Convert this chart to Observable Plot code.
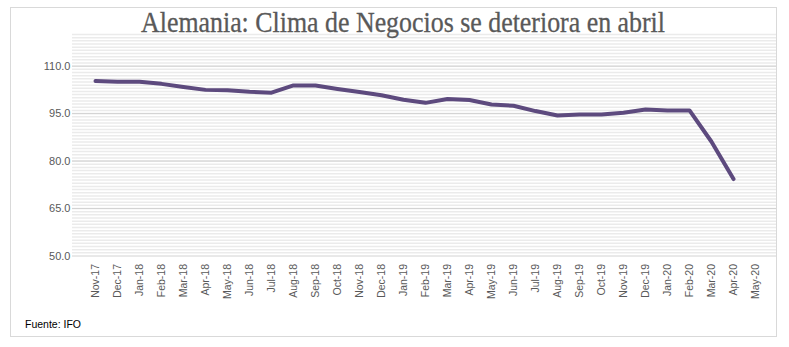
<!DOCTYPE html>
<html>
<head>
<meta charset="utf-8">
<script src="https://cdn.jsdelivr.net/npm/d3@7"></script>
<script src="https://cdn.jsdelivr.net/npm/@observablehq/plot@0.6"></script>
<style>
  html, body { margin: 0; padding: 0; background: #fff; }
  #wrap { position: relative; width: 789px; height: 347px; overflow: hidden; }
  #frame { position: absolute; left: 10px; top: 7px; width: 767px; height: 330px; border: 1px solid #d9d9d9; box-sizing: border-box; pointer-events: none; }
  #title { position: absolute; left: 0; top: 0; }
  #caption { position: absolute; left: 25px; top: 318px; font-family: "Liberation Sans", Arial, sans-serif; font-size: 10.5px; color: #000; }
  #chart { position: absolute; left: 0; top: 0; }
</style>
</head>
<body>
<div id="wrap">
  <div id="chart"></div>
  <svg id="title" width="789" height="40">
    <text x="403" y="32" text-anchor="middle" textLength="524" lengthAdjust="spacingAndGlyphs"
      font-family="Liberation Serif, serif" font-size="30" fill="#595959" stroke="#595959" stroke-width="0.3">Alemania: Clima de Negocios se deteriora en abril</text>
  </svg>
  <div id="frame"></div>
  <div id="caption">Fuente: IFO</div>
</div>
<script>
const months = ["Nov-17","Dec-17","Jan-18","Feb-18","Mar-18","Apr-18","May-18","Jun-18","Jul-18","Aug-18","Sep-18","Oct-18","Nov-18","Dec-18","Jan-19","Feb-19","Mar-19","Apr-19","May-19","Jun-19","Jul-19","Aug-19","Sep-19","Oct-19","Nov-19","Dec-19","Jan-20","Feb-20","Mar-20","Apr-20","May-20"];
const values = [105.3,105.1,105.1,104.4,103.4,102.5,102.4,101.9,101.6,103.9,103.9,102.8,101.8,100.8,99.4,98.4,99.6,99.3,97.9,97.5,95.8,94.4,94.7,94.7,95.3,96.3,96.0,96.0,86.1,74.3,null];
const yTicks = [50, 65, 80, 95, 110];
const yDomain = [50, 120];

const data = months.map((m, i) => ({month: m, value: values[i]}));
const stripes = d3.range(yDomain[0] + 1, yDomain[1] + 0.5, 1);

const chart = Plot.plot({
  width: 789,
  height: 347,
  marginTop: 34,
  marginBottom: 91.5,
  marginLeft: 72,
  marginRight: 12,
  style: {background: "transparent", fontFamily: "Liberation Sans, Arial, sans-serif"},
  x: {type: "point", domain: months, padding: 0.5},
  y: {domain: yDomain},
  marks: [
    Plot.ruleY(stripes, {stroke: "#ebebeb", strokeWidth: 1.5}),
    Plot.ruleY(yTicks, {stroke: "#d2d2d2", strokeWidth: 1}),
    Plot.axisY({ticks: yTicks, tickFormat: d => d.toFixed(1), tickSize: 0, tickPadding: 2, fontSize: 11, color: "#595959", label: null}),
    Plot.axisX({tickSize: 0, tickPadding: 8, tickRotate: -90, fontSize: 10.5, color: "#595959", label: null}),
    Plot.line(data.filter(d => d.value != null), {x: "month", y: "value", stroke: "#5d4a7e", strokeWidth: 4, strokeLinejoin: "round", strokeLinecap: "round"})
  ]
});
document.getElementById("chart").appendChild(chart);
</script>
</body>
</html>
